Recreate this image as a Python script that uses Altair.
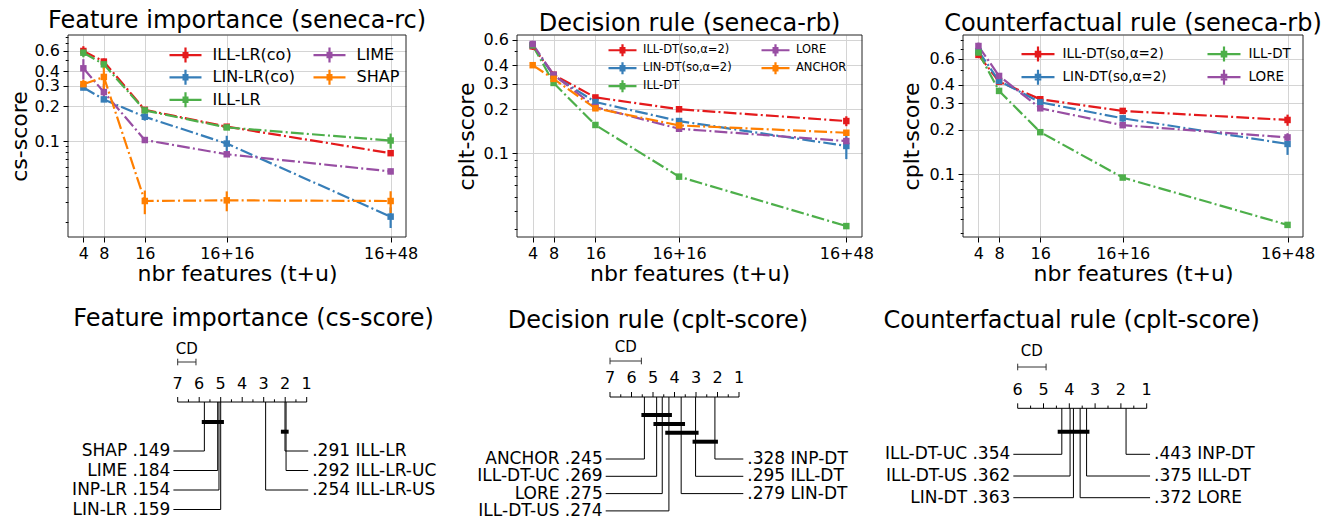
import altair as alt
import pandas as pd

FONT = "DejaVu Sans"
INK = "#000000"
GRID = "#d4d4d4"

# ------------------------------------------------------------------ data
X_VALUES = [4, 8, 16, 32, 64]
X_LABELS = ["4", "8", "16", "16+16", "16+48"]
X_TITLE = "nbr features (t+u)"
Y_MAJOR = [0.1, 0.2, 0.3, 0.4, 0.6]

RED, BLUE, GREEN, PURPLE, ORANGE = "#e41a1c", "#377eb8", "#4daf4a", "#984ea3", "#ff7f00"

# top-left panel
P1_TITLE = "Feature importance (seneca-rc)"
P1_YTITLE = "cs-score"
P1_NAMES = ["ILL-LR(co)", "LIN-LR(co)", "ILL-LR", "LIME", "SHAP"]
P1_COLORS = [RED, BLUE, GREEN, PURPLE, ORANGE]
P1_ILL_LR_CO = [0.600, 0.486, 0.186, 0.133, 0.0785]
P1_LIN_LR_CO = [0.290, 0.229, 0.162, 0.095, 0.0222]
P1_ILL_LR = [0.580, 0.460, 0.184, 0.131, 0.101]
P1_LIME = [0.425, 0.265, 0.102, 0.0768, 0.0546]
P1_SHAP = [0.310, 0.358, 0.0303, 0.0307, 0.0303]
P1_ILL_LR_CO_ERR = [0.060, 0.030, 0.010, 0.006, 0.004]
P1_LIN_LR_CO_ERR = [0.015, 0.012, 0.012, 0.016, 0.0045]
P1_ILL_LR_ERR = [0.050, 0.040, 0.010, 0.006, 0.015]
P1_LIME_ERR = [0.085, 0.045, 0.005, 0.004, 0.003]
P1_SHAP_ERR = [0.028, 0.080, 0.007, 0.006, 0.0065]
P1_YDOMAIN = [0.0148, 0.825]
P1_MINOR = [0.02, 0.03, 0.04, 0.05, 0.06, 0.07, 0.08, 0.09, 0.5, 0.7, 0.8]

# top-middle panel
P2_TITLE = "Decision rule (seneca-rb)"
P2_YTITLE = "cplt-score"
P2_NAMES = ["ILL-DT(so,α=2)", "LIN-DT(so,α=2)", "ILL-DT", "LORE", "ANCHOR"]
P2_COLORS = [RED, BLUE, GREEN, PURPLE, ORANGE]
P2_ILL_DT_SO = [0.540, 0.345, 0.241, 0.200, 0.166]
P2_LIN_DT_SO = [0.550, 0.340, 0.224, 0.166, 0.112]
P2_ILL_DT = [0.550, 0.303, 0.156, 0.069, 0.0316]
P2_LORE = [0.560, 0.345, 0.207, 0.147, 0.121]
P2_ANCHOR = [0.401, 0.323, 0.203, 0.155, 0.138]
P2_ILL_DT_SO_ERR = [0.030, 0.010, 0.008, 0.006, 0.013]
P2_LIN_DT_SO_ERR = [0.030, 0.010, 0.010, 0.008, 0.021]
P2_ILL_DT_ERR = [0.020, 0.010, 0.005, 0.003, 0.001]
P2_LORE_ERR = [0.030, 0.010, 0.005, 0.005, 0.007]
P2_ANCHOR_ERR = [0.010, 0.010, 0.005, 0.004, 0.004]
P2_YDOMAIN = [0.0266, 0.646]
P2_MINOR = [0.03, 0.04, 0.05, 0.06, 0.07, 0.08, 0.09, 0.5]

# top-right panel
P3_TITLE = "Counterfactual rule (seneca-rb)"
P3_YTITLE = "cplt-score"
P3_NAMES = ["ILL-DT(so,α=2)", "LIN-DT(so,α=2)", "ILL-DT", "LORE"]
P3_COLORS = [RED, BLUE, GREEN, PURPLE]
P3_ILL_DT_SO = [0.636, 0.420, 0.320, 0.267, 0.232]
P3_LIN_DT_SO = [0.675, 0.425, 0.305, 0.238, 0.160]
P3_ILL_DT = [0.660, 0.364, 0.192, 0.095, 0.0456]
P3_LORE = [0.730, 0.459, 0.278, 0.214, 0.177]
P3_ILL_DT_SO_ERR = [0.030, 0.015, 0.010, 0.010, 0.020]
P3_LIN_DT_SO_ERR = [0.030, 0.015, 0.010, 0.012, 0.025]
P3_ILL_DT_ERR = [0.020, 0.010, 0.005, 0.003, 0.0015]
P3_LORE_ERR = [0.040, 0.020, 0.010, 0.008, 0.012]
P3_YDOMAIN = [0.0378, 0.866]
P3_MINOR = [0.04, 0.05, 0.06, 0.07, 0.08, 0.09, 0.5, 0.7, 0.8]

# critical-difference diagrams (average ranks)
CD1_TITLE = "Feature importance (cs-score)"
CD1_NAMES = ["SHAP", "LIME", "INP-LR", "LIN-LR", "ILL-LR", "ILL-LR-UC", "ILL-LR-US"]
CD1_SCORES = [".149", ".184", ".154", ".159", ".291", ".292", ".254"]
CD1_RANKS = [5.76, 5.14, 5.08, 5.00, 2.01, 1.96, 2.91]
CD1_NLEFT = 4
CD1_NRANKS = 7
CD1_CD = 0.85
CD1_CLIQUE_LO = [5.88, 2.20]
CD1_CLIQUE_HI = [4.85, 1.84]

CD2_TITLE = "Decision rule (cplt-score)"
CD2_NAMES = ["ANCHOR", "ILL-DT-UC", "LORE", "ILL-DT-US", "INP-DT", "ILL-DT", "LIN-DT"]
CD2_SCORES = [".245", ".269", ".275", ".274", ".328", ".295", ".279"]
CD2_RANKS = [5.40, 4.83, 4.57, 4.26, 2.12, 3.02, 3.69]
CD2_NLEFT = 4
CD2_NRANKS = 7
CD2_CD = 1.46
CD2_CLIQUE_LO = [5.54, 4.98, 4.43, 3.16]
CD2_CLIQUE_HI = [4.12, 3.51, 2.88, 1.98]

CD3_TITLE = "Counterfactual rule (cplt-score)"
CD3_NAMES = ["ILL-DT-UC", "ILL-DT-US", "LIN-DT", "INP-DT", "ILL-DT", "LORE"]
CD3_SCORES = [".354", ".362", ".363", ".443", ".375", ".372"]
CD3_RANKS = [4.29, 3.97, 3.84, 1.80, 3.33, 3.58]
CD3_NLEFT = 3
CD3_NRANKS = 6
CD3_CD = 1.10
CD3_CLIQUE_LO = [4.45]
CD3_CLIQUE_HI = [3.22]

# ------------------------------------------------------------------ layout
PLOT_W = [338, 345, 340]      # framed plot widths
GAPS = [111, 101, 0]          # empty room after each plot (kept inside each cell)
CELL_W = [w + g for w, g in zip(PLOT_W, GAPS)]
TOP_H = 202
BOT_H = 220
ROW_GAP = 60
TOP_Y0 = 34
BOT_Y0 = TOP_Y0 + TOP_H + ROW_GAP
LEFTS = [68, 68 + CELL_W[0], 68 + CELL_W[0] + CELL_W[1]]


def symbol_path(half_w, half_err, half_sq, unit):
    a, e, s = half_w / unit, half_err / unit, half_sq / unit
    q = 0.7 * s
    return (f"M{-a:.3f},0H{a:.3f}M0,{-e:.3f}V{e:.3f}"
            f"M{-s:.3f},{-q:.3f}H{s:.3f}M{-s:.3f},0H{s:.3f}M{-s:.3f},{q:.3f}H{s:.3f}")


def top_panel(title, ytitle, names, colors, series, errors, ydomain, minor,
              plot_w, cell_w, title_pad, leg):
    rows = []
    for n, vals, errs in zip(names, series, errors):
        for xv, v, e in zip(X_VALUES, vals, errs):
            rows.append({"method": n, "x": xv, "y": v, "lo": v - e, "hi": v + e})
    df = pd.DataFrame(rows)
    cscale = alt.Scale(domain=names, range=colors)
    legend = alt.Legend(
        orient="none", legendX=leg["x"], legendY=leg["y"], columns=2, title=None,
        symbolType=symbol_path(leg["hw"], leg["he"], leg["hs"], leg["d"] / 2),
        symbolSize=leg["d"] ** 2, symbolStrokeWidth=2.2, symbolOpacity=1,
        symbolDash=[1, 0], symbolFillColor="transparent",
        labelFontSize=leg["fs"], labelFont=FONT, labelColor=INK,
        labelOffset=leg["lo"], rowPadding=leg["rp"], columnPadding=leg["cp"],
        padding=0)
    color = alt.Color("method:N", scale=cscale, legend=legend)

    ticks = sorted(set(minor + Y_MAJOR))
    test = f"indexof({Y_MAJOR}, datum.value) >= 0"
    yaxis = alt.Axis(
        values=ticks, title=ytitle, grid=True, gridColor=GRID,
        gridOpacity={"condition": {"test": test, "value": 1}, "value": 0},
        tickSize={"condition": {"test": test, "value": 5}, "value": 2.8},
        labelExpr=f"{test} ? format(datum.value, '.1f') : ''",
        labelFontSize=16, labelPadding=3.5, labelOverlap=False, labelColor=INK,
        titleFontSize=22, titleFontWeight="normal", titlePadding=title_pad, titleColor=INK,
        tickColor=INK, domain=False, labelFont=FONT, titleFont=FONT)
    xaxis = alt.Axis(
        values=X_VALUES, title=X_TITLE, grid=True, gridColor=GRID,
        labelExpr=f"{X_LABELS}[indexof({X_VALUES}, datum.value)]",
        tickSize=5, labelFontSize=16, labelPadding=3.5, labelFlush=False, labelColor=INK,
        titleFontSize=22, titleFontWeight="normal", titlePadding=2, titleColor=INK,
        titleX=plot_w / 2, tickColor=INK, domain=False, labelFont=FONT, titleFont=FONT)
    xs = alt.Scale(domain=[1, 67], nice=False, zero=False, range=[0, plot_w])
    ys = alt.Scale(type="log", domain=ydomain, nice=False)

    x = alt.X("x:Q", scale=xs, axis=xaxis)
    base = alt.Chart(df)
    line = base.mark_line(strokeDash=[12.8, 3.2, 2, 3.2], strokeWidth=2.2).encode(
        x=x, y=alt.Y("y:Q", scale=ys, axis=yaxis), color=color)
    err = base.mark_rule(strokeWidth=2.2).encode(
        x=x, y=alt.Y("lo:Q", scale=ys, axis=yaxis), y2="hi:Q", color=color)
    pts = base.mark_point(shape="square", filled=True, size=42, opacity=1).encode(
        x=x, y=alt.Y("y:Q", scale=ys, axis=yaxis), color=color)
    frame = alt.Chart(pd.DataFrame({"f": [0]})).mark_rect(
        fillOpacity=0, stroke="#222222", strokeWidth=1).encode(
        x=alt.value(0), x2=alt.value(plot_w), y=alt.value(0), y2=alt.value(TOP_H))
    return alt.layer(line, err, pts, frame).properties(
        width=cell_w, height=TOP_H,
        title=alt.TitleParams(title, fontSize=24, font=FONT, fontWeight="normal",
                              color=INK, anchor="middle", offset=-4,
                              dx=-(cell_w - plot_w) / 2))


def cd_panel(title, names, scores, ranks, nleft, nranks, cd, clo, chi, width, lay):
    ppr = lay["ppr"]
    rpx = lay["rank_px"]
    dom = [nranks + rpx / ppr, nranks - (width - rpx) / ppr]
    xs = alt.Scale(domain=dom, nice=False, zero=False)
    ys = alt.Scale(domain=[BOT_H, 0], nice=False, zero=False)

    def X(f):
        return alt.X(f, type="quantitative", scale=xs, axis=None)

    def Y(f):
        return alt.Y(f, type="quantitative", scale=ys, axis=None)

    ay = lay["axis_y"] - BOT_Y0
    left_end = nranks + lay["lext"]
    right_end = lay["rend"]
    rows = []
    for i, (n, s, r) in enumerate(zip(names, scores, ranks)):
        if i < nleft:
            j, side, end, lab = i, "L", left_end, f"{n} {s}"
        else:
            j, side, end, lab = i - nleft, "R", right_end, f"{s} {n}"
        rows.append({"rank": r, "side": side, "end": end, "label": lab,
                     "ay": ay, "ry": lay["row_y"] - BOT_Y0 + j * lay["row_step"]})
    dm = pd.DataFrame(rows)

    ticks = []
    k = 2
    while k <= 2 * nranks:
        r = k / 2
        ticks.append({"r": r, "y1": ay, "y2": ay - (5 if k % 2 == 0 else 2.7),
                      "t": str(int(r)) if k % 2 == 0 else ""})
        k += 1
    dt = pd.DataFrame(ticks)
    dlab = dt[dt["t"] != ""]

    cy = lay["cd_y"] - BOT_Y0
    dcd = pd.DataFrame({"a": [nranks], "b": [nranks - cd], "one": [1], "y": [cy],
                        "y1": [cy - 3.3], "y2": [cy + 3.3], "mid": [nranks - cd / 2],
                        "t": ["CD"], "ty": [lay["cd_text_y"] - BOT_Y0],
                        "ax": [ay]})
    dcl = pd.DataFrame({"lo": clo, "hi": chi,
                        "y": [lay["clq_y"] - BOT_Y0 + j * lay["clq_step"] for j in range(len(clo))]})

    rule = dict(color=INK, strokeWidth=1)
    layers = [
        alt.Chart(dm).mark_rule(**rule).encode(x=X("rank"), y=Y("ay"), y2="ry"),
        alt.Chart(dm).mark_rule(**rule).encode(x=X("rank"), x2="end", y=Y("ry")),
        alt.Chart(dm).transform_filter("datum.side == 'L'").mark_text(
            align="right", baseline="middle", dx=-3, fontSize=17, font=FONT, color=INK
        ).encode(x=X("end"), y=Y("ry"), text="label:N"),
        alt.Chart(dm).transform_filter("datum.side == 'R'").mark_text(
            align="left", baseline="middle", dx=4, fontSize=17, font=FONT, color=INK
        ).encode(x=X("end"), y=Y("ry"), text="label:N"),
        alt.Chart(dcd).mark_rule(**rule).encode(x=X("a"), x2="one", y=Y("ax")),
        alt.Chart(dt).mark_rule(**rule).encode(x=X("r"), y=Y("y1"), y2="y2"),
        alt.Chart(dlab).mark_text(fontSize=16, font=FONT, color=INK, baseline="middle").encode(
            x=X("r"), y=alt.value(lay["tick_y"] - BOT_Y0), text="t:N"),
        alt.Chart(dcd).mark_rule(color="#333333", strokeWidth=1).encode(
            x=X("a"), x2="b", y=Y("y")),
        alt.Chart(dcd).mark_rule(color="#333333", strokeWidth=1).encode(
            x=X("a"), y=Y("y1"), y2="y2"),
        alt.Chart(dcd).mark_rule(color="#333333", strokeWidth=1).encode(
            x=X("b"), y=Y("y1"), y2="y2"),
        alt.Chart(dcd).mark_text(fontSize=15, font=FONT, color=INK, baseline="middle").encode(
            x=X("mid"), y=Y("ty"), text="t:N"),
        alt.Chart(dcl).mark_rule(color=INK, strokeWidth=4).encode(
            x=X("lo"), x2="hi", y=Y("y")),
        alt.Chart(pd.DataFrame({"t": [title]})).mark_text(
            fontSize=24, font=FONT, color=INK, baseline="middle").encode(
            x=alt.value(lay["title_x"]), y=alt.value(lay["title_y"] - BOT_Y0), text="t:N"),
    ]
    return alt.layer(*layers).properties(width=width, height=BOT_H)


t1 = top_panel(P1_TITLE, P1_YTITLE, P1_NAMES, P1_COLORS,
               [P1_ILL_LR_CO, P1_LIN_LR_CO, P1_ILL_LR, P1_LIME, P1_SHAP],
               [P1_ILL_LR_CO_ERR, P1_LIN_LR_CO_ERR, P1_ILL_LR_ERR, P1_LIME_ERR, P1_SHAP_ERR],
               P1_YDOMAIN, P1_MINOR, PLOT_W[0], CELL_W[0], 3,
               dict(x=109, y=11.3, hw=16, he=7.5, hs=3, d=14, fs=16, lo=18.5, rp=-2.5, cp=14))
t2 = top_panel(P2_TITLE, P2_YTITLE, P2_NAMES, P2_COLORS,
               [P2_ILL_DT_SO, P2_LIN_DT_SO, P2_ILL_DT, P2_LORE, P2_ANCHOR],
               [P2_ILL_DT_SO_ERR, P2_LIN_DT_SO_ERR, P2_ILL_DT_ERR, P2_LORE_ERR, P2_ANCHOR_ERR],
               P2_YDOMAIN, P2_MINOR, PLOT_W[1], CELL_W[1], 5,
               dict(x=98, y=7.7, hw=14, he=6, hs=3, d=12, fs=11.5, lo=13, rp=-4.7, cp=25))
t3 = top_panel(P3_TITLE, P3_YTITLE, P3_NAMES, P3_COLORS,
               [P3_ILL_DT_SO, P3_LIN_DT_SO, P3_ILL_DT, P3_LORE],
               [P3_ILL_DT_SO_ERR, P3_LIN_DT_SO_ERR, P3_ILL_DT_ERR, P3_LORE_ERR],
               P3_YDOMAIN, P3_MINOR, PLOT_W[2], CELL_W[2], 6,
               dict(x=66.5, y=10.3, hw=16.5, he=7.5, hs=3.3, d=14, fs=13.5, lo=16, rp=-1.6, cp=35))

b1 = cd_panel(CD1_TITLE, CD1_NAMES, CD1_SCORES, CD1_RANKS, CD1_NLEFT, CD1_NRANKS, CD1_CD,
              CD1_CLIQUE_LO, CD1_CLIQUE_HI, CELL_W[0],
              dict(ppr=21.5, rank_px=177.7 - LEFTS[0], lext=0.2, rend=0.93,
                   axis_y=401, row_y=450, row_step=19.5, cd_y=361, cd_text_y=348,
                   tick_y=382.7, clq_y=421, clq_step=9.7, title_x=253.5 - LEFTS[0], title_y=318))
b2 = cd_panel(CD2_TITLE, CD2_NAMES, CD2_SCORES, CD2_RANKS, CD2_NLEFT, CD2_NRANKS, CD2_CD,
              CD2_CLIQUE_LO, CD2_CLIQUE_HI, CELL_W[1],
              dict(ppr=21.5, rank_px=610 - LEFTS[1], lext=0.2, rend=0.8,
                   axis_y=396, row_y=458, row_step=17.3, cd_y=360, cd_text_y=345.7,
                   tick_y=377.3, clq_y=414, clq_step=8.9, title_x=658 - LEFTS[1], title_y=320))
b3 = cd_panel(CD3_TITLE, CD3_NAMES, CD3_SCORES, CD3_RANKS, CD3_NLEFT, CD3_NRANKS, CD3_CD,
              CD3_CLIQUE_LO, CD3_CLIQUE_HI, CELL_W[2],
              dict(ppr=25.8, rank_px=1017.7 - LEFTS[2], lext=0.17, rend=0.87,
                   axis_y=407.3, row_y=453.3, row_step=21.7, cd_y=366, cd_text_y=350,
                   tick_y=389.3, clq_y=430.7, clq_step=9, title_x=1071.7 - LEFTS[2], title_y=320))

chart = alt.concat(
    t1, t2, t3, b1, b2, b3, columns=3, bounds="flush",
    spacing={"row": ROW_GAP, "column": 0},
).resolve_scale(color="independent").resolve_legend(color="independent").properties(
    padding={"left": 0, "top": 0, "right": 0, "bottom": 0}
).configure(font=FONT).configure_view(stroke=None)

chart.save("out.html", embed_options={"renderer": "svg", "actions": False})
